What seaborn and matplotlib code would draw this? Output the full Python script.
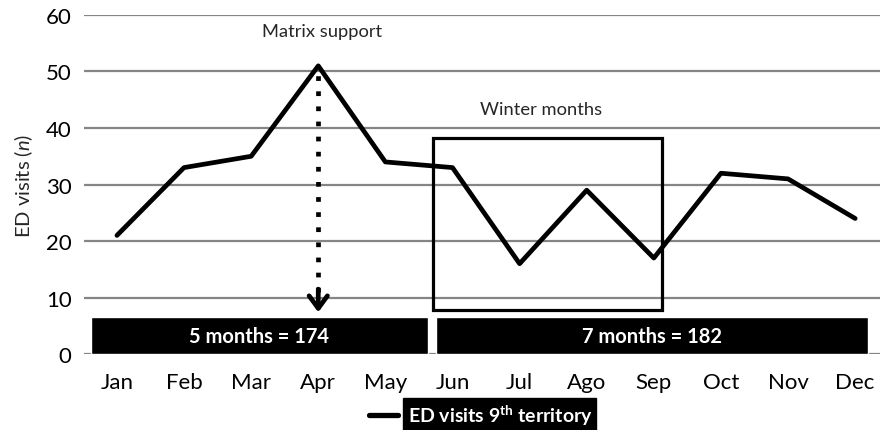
import numpy as np
import pandas as pd
import seaborn as sns
import matplotlib.pyplot as plt

months = ["Jan", "Feb", "Mar", "Apr", "May", "Jun", "Jul", "Ago", "Sep", "Oct", "Nov", "Dec"]
visits = [21, 33, 35, 51, 34, 33, 16, 29, 17, 32, 31, 24]
yticks = [0, 10, 20, 30, 40, 50, 60]

# period summary bars: (left, right) in month index units
period_labels = ["5 months = 174", "7 months = 182"]
period_spans = [(-0.39, 4.63), (4.75, 11.19)]
period_height = 6.5

# winter box (month index / visits)
winter_x = (4.71, 8.12)
winter_y = (7.8, 38.2)
support_month = "Apr"

sns.set_theme(style="whitegrid")
plt.rcParams["font.family"] = ["Lato", "DejaVu Sans"]
plt.rcParams["mathtext.fontset"] = "custom"
plt.rcParams["mathtext.rm"] = "Lato"
plt.rcParams["mathtext.it"] = "Lato:italic"
plt.rcParams["mathtext.bf"] = "Lato:bold"

df = pd.DataFrame({"x": np.arange(len(months)), "visits": visits})

fig = plt.figure(figsize=(8.8, 4.31), dpi=100)
ax = fig.add_axes([0.0955, 0.176, 0.9045, 0.787])

sns.lineplot(data=df, x="x", y="visits", color="black", lw=3.4,
             label="ED visits 9$^{\\mathbf{th}}$ territory", ax=ax, zorder=4)

# summary bars at the bottom
for (l, r), txt in zip(period_spans, period_labels):
    ax.bar((l + r) / 2, period_height, width=r - l, color="black", zorder=3)
    ax.text((l + r) / 2, period_height / 2, txt, color="white", fontsize=14.5,
            fontweight="bold", ha="center", va="center", zorder=5)

# winter months box
ax.add_patch(plt.Rectangle((winter_x[0], winter_y[0]), winter_x[1] - winter_x[0],
                           winter_y[1] - winter_y[0], fill=False, ec="black", lw=2.3, zorder=4))
ax.text(sum(winter_x) / 2 - 0.1, 43.4, "Winter months", fontsize=13.2, ha="center", va="center")

# matrix support dotted arrow
xs = months.index(support_month)
ax.vlines(xs, 11, visits[xs], colors="black", lw=3.4, linestyles=(0, (1, 2.2)), zorder=5)
ax.annotate("", xy=(xs, 7.4), xytext=(xs, 11.5),
            arrowprops=dict(arrowstyle="->,head_length=0.75,head_width=0.55", lw=3.4,
                            color="black", shrinkA=0, shrinkB=0), zorder=5)
ax.text(xs + 0.05, 57.2, "Matrix support", fontsize=13.2, ha="center", va="center")

ax.set_xlim(-0.49, 11.37)
ax.set_ylim(0, 60)
ax.set_xticks(np.arange(len(months)))
ax.set_xticklabels(months)
ax.set_yticks(yticks)
ax.grid(axis="x", visible=False)
ax.grid(axis="y", color="#858585", lw=1.6)
for s in ax.spines.values():
    s.set_visible(False)
ax.tick_params(axis="x", length=0, pad=13, labelsize=16, colors="black")
ax.tick_params(axis="y", length=0, pad=9, labelsize=16, colors="black")
ax.set_xlabel("")
ax.set_ylabel("ED visits ($\\mathit{n}$)", fontsize=14.5, labelpad=8)

leg = ax.legend(loc="center", bbox_to_anchor=(0.546, 0.036), bbox_transform=fig.transFigure,
                frameon=False, fontsize=14, handlelength=1.5, handletextpad=0.5)
for t in leg.get_texts():
    t.set_color("white")
    t.set_fontweight("bold")
    t.set_bbox(dict(facecolor="black", edgecolor="black", pad=3))
for h in leg.get_lines():
    h.set_linewidth(3.8)

fig.savefig("out.png", dpi=100)
